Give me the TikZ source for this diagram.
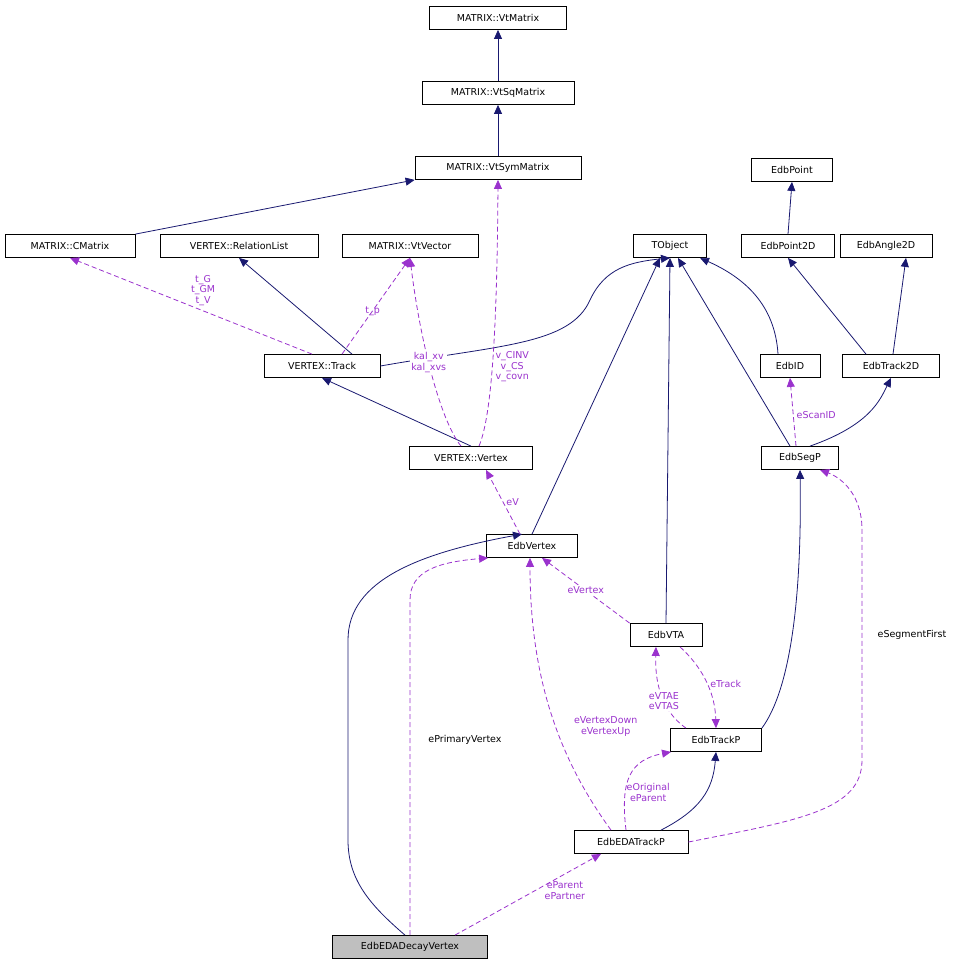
\documentclass[tikz,border=0pt]{standalone}
\usepackage{fontspec}
\setmainfont{DejaVu Sans}
\usetikzlibrary{arrows.meta}
\definecolor{nav}{HTML}{191970}
\definecolor{pur}{HTML}{9A32CD}
\begin{document}
\begin{tikzpicture}[x=1pt,y=-1pt,
 box/.style={draw,thick,inner sep=0pt,minimum height=23pt,font=\fontsize{9.5}{11}\selectfont},
 inh/.style={nav,thick,-{Triangle[length=9pt,width=8pt]}},
 use/.style={pur,thick,dashed,dash pattern=on 5pt off 3pt,-{Triangle[length=9pt,width=8pt]}},
 lab/.style={align=center,font=\fontsize{9.5}{10.5}\selectfont,inner sep=1pt}]
\useasboundingbox (0,0) rectangle (971,967);
\node[box,minimum width=137pt] (vtm) at (498,18) {MATRIX::VtMatrix};
\node[box,minimum width=152pt] (vtsq) at (498,93) {MATRIX::VtSqMatrix};
\node[box,minimum width=166pt] (vtsym) at (498,168) {MATRIX::VtSymMatrix};
\node[box,minimum width=130pt] (cm) at (70,246) {MATRIX::CMatrix};
\node[box,minimum width=158pt] (rl) at (239,246) {VERTEX::RelationList};
\node[box,minimum width=136pt] (vv) at (410,246) {MATRIX::VtVector};
\node[box,minimum width=73pt] (tob) at (670,246) {TObject};
\node[box,minimum width=81pt] (ep) at (792,170) {EdbPoint};
\node[box,minimum width=93pt] (ep2) at (788,246) {EdbPoint2D};
\node[box,minimum width=92pt] (ea2) at (886,246) {EdbAngle2D};
\node[box,minimum width=116pt] (trk) at (322,366) {VERTEX::Track};
\node[box,minimum width=60pt] (eid) at (790,366) {EdbID};
\node[box,minimum width=97pt] (et2) at (891,366) {EdbTrack2D};
\node[box,minimum width=123pt] (vtx) at (471,458) {VERTEX::Vertex};
\node[box,minimum width=77pt] (seg) at (800,458) {EdbSegP};
\node[box,minimum width=91pt] (ev) at (532,546) {EdbVertex};
\node[box,minimum width=72pt] (vta) at (666,635) {EdbVTA};
\node[box,minimum width=91pt] (etp) at (716,740) {EdbTrackP};
\node[box,minimum width=114pt] (eda) at (631,842) {EdbEDATrackP};
\node[box,minimum width=155pt,fill={rgb,255:red,191;green,191;blue,191}] (dec) at (410,947) {EdbEDADecayVertex};
% inheritance
\draw[inh] (vtsq) -- (vtm);
\draw[inh] (vtsym) -- (vtsq);
\draw[inh] (cm.north east) -- (vtsym.south west);
\draw[inh] ([xshift=30pt]trk.north) -- (rl.south);
\draw[inh] (trk.east) .. controls (500,345) and (570,345) .. (590,300) .. controls (605,268) and (630,262) .. (tob.south);
\draw[inh] (vtx.north) -- (trk.south);
\draw[inh] (ev.north) -- ([xshift=-10pt]tob.south);
\draw[inh] (vta.north) -- (tob.south);
\draw[inh] ([xshift=-10pt]seg.north) -- ([xshift=8pt]tob.south);
\draw[inh] ([xshift=-12pt]eid.north) .. controls (775,305) and (745,278) .. ([xshift=30pt]tob.south);
\draw[inh] (ep2.north) -- (ep.south);
\draw[inh] ([xshift=-25pt]et2.north) -- (ep2.south);
\draw[inh] ([xshift=2pt]et2.north) -- ([xshift=20pt]ea2.south);
\draw[inh] ([xshift=10pt]seg.north) .. controls (870,425) and (880,400) .. (et2.south);
\draw[inh] (etp.north east) .. controls (790,690) and (802,600) .. (seg.south);
\draw[inh] (eda.north) ++(30,0) .. controls (700,810) and (713,790) .. (etp.south);
\draw[inh] ([xshift=-5pt]dec.north) .. controls (370,905) and (348,880) .. (348,840) -- (348,640) .. controls (348,580) and (420,553) .. ([xshift=-10pt]ev.north);
% usage
\draw[use] ([xshift=-10pt]trk.north) -- node[lab,pos=0.45,above=4pt] {t\_G\\t\_GM\\t\_V} (cm.south);
\draw[use] (trk.north) ++(20,0) -- node[lab,pos=0.45] {t\_p} (vv.south);
\draw[use] (vtx.north) ++(-10,0) .. controls (440,420) and (420,340) .. node[lab,pos=0.55,fill=white] {kal\_xv\\kal\_xvs} (vv.south);
\draw[use] (vtx.north) ++(8,0) .. controls (490,420) and (497,350) .. node[lab,pos=0.5,xshift=20pt,fill=white] {v\_CINV\\v\_CS\\v\_covn} (vtsym.south);
\draw[use] ([xshift=-12pt]ev.north) -- node[lab,right=2pt] {eV} ([xshift=15pt]vtx.south);
\draw[use] (vta.north west) -- node[lab,fill=white] {eVertex} ([xshift=10pt]ev.south);
\draw[use] ([xshift=14pt]vta.south) .. controls (700,665) and (715,690) .. node[lab,right=2pt,pos=0.55] {eTrack} (etp.north);
\draw[use] ([xshift=-30pt]etp.north) .. controls (660,710) and (655,680) .. node[lab,pos=0.4,fill=white] {eVTAE\\eVTAS} ([xshift=-10pt]vta.south);
\draw[use] (seg.north) ++(-4,0) -- node[lab,right=2pt,pos=0.45,fill=white] {eScanID} (eid.south);
\draw[use] ([xshift=-20pt]eda.north) .. controls (560,760) and (530,680) .. node[lab,pos=0.45,xshift=50pt] {eVertexDown\\eVertexUp} ([xshift=-2pt]ev.south);
\draw[use] ([xshift=-5pt]eda.north) .. controls (620,780) and (630,760) .. node[lab,pos=0.3,right=0pt] {eOriginal\\eParent} ([xshift=-45pt]etp.south);
\draw[use] (eda.east) .. controls (800,820) and (862,810) .. (862,760) -- (862,530) .. controls (862,495) and (842,478) .. ([xshift=20pt]seg.south);
\node[lab] at (912,635) {eSegmentFirst};
\draw[use] (dec.north) -- (410,600) .. controls (410,570) and (440,562) .. ([xshift=2pt]ev.south west);
\node[lab] at (465,740) {ePrimaryVertex};
\draw[use] ([xshift=45pt]dec.north) -- node[lab,pos=0.55,right=8pt] {eParent\\ePartner} ([xshift=-30pt]eda.south);
\end{tikzpicture}
\end{document}
